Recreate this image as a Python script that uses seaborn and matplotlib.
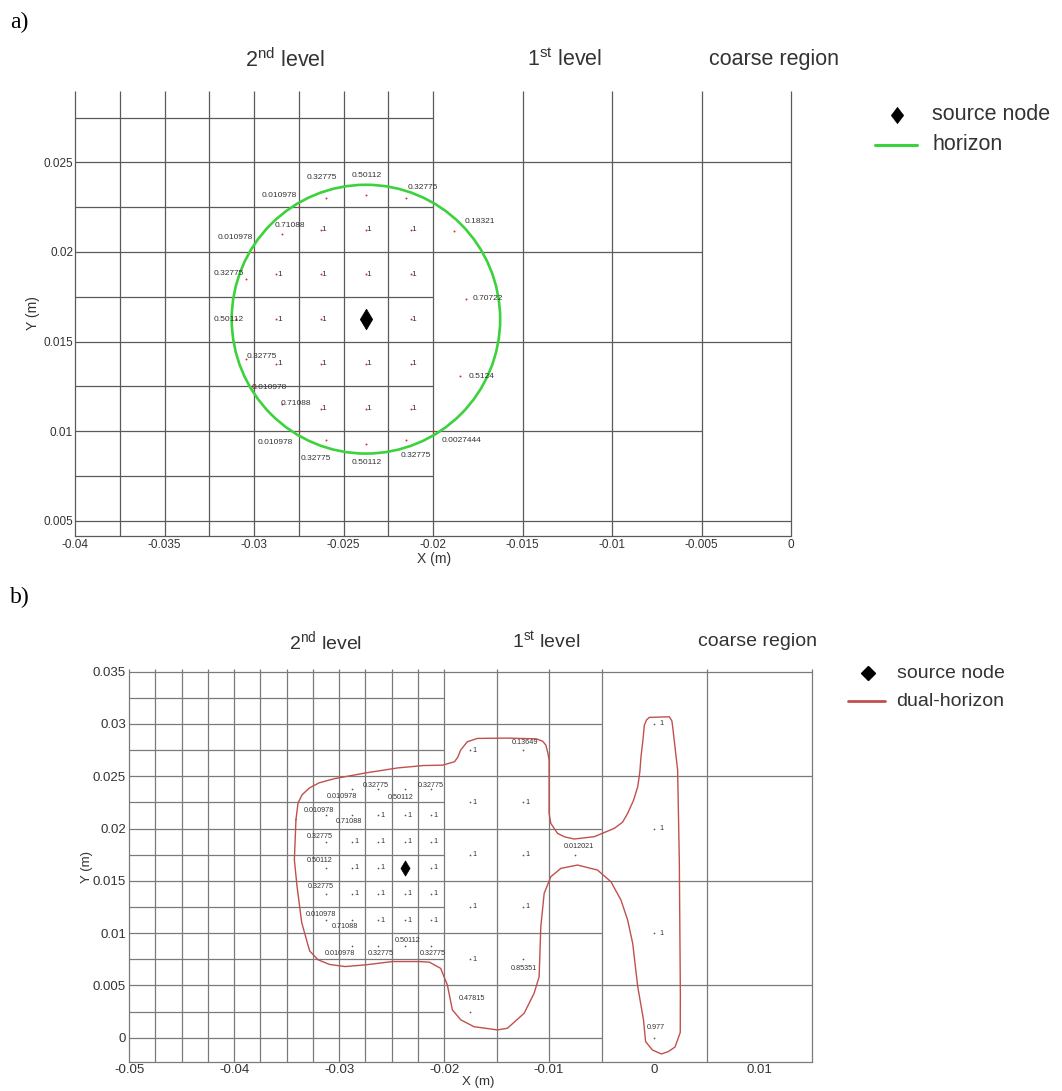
import numpy as np
import pandas as pd
import matplotlib
matplotlib.use("Agg")
import matplotlib.pyplot as plt
import seaborn as sns
from matplotlib.patches import Circle
from matplotlib.lines import Line2D

# ---------------- data : panel a (horizon of the source node) ----------------
source_x = -0.02375
source_y = 0.01625
horizon_radius = 0.0075

a_full_x = [-0.02625, -0.02375, -0.02125,
            -0.02875, -0.02625, -0.02375, -0.02125,
            -0.02875, -0.02625, -0.02125,
            -0.02875, -0.02625, -0.02375, -0.02125,
            -0.02625, -0.02375, -0.02125]
a_full_y = [0.02125, 0.02125, 0.02125,
            0.01875, 0.01875, 0.01875, 0.01875,
            0.01625, 0.01625, 0.01625,
            0.01375, 0.01375, 0.01375, 0.01375,
            0.01125, 0.01125, 0.01125]

a_part_x = [-0.0275, -0.02598, -0.02377, -0.02151, -0.01883, -0.02846, -0.0300,
            -0.03047, -0.01816, -0.0310, -0.03047, -0.0300, -0.02846, -0.01848,
            -0.0275, -0.02598, -0.02377, -0.02151, -0.0200]
a_part_y = [0.0225, 0.02301, 0.02320, 0.02301, 0.02116, 0.02098, 0.0200,
            0.01850, 0.01739, 0.01625, 0.01400, 0.0125, 0.01152, 0.01306,
            0.0100, 0.00949, 0.00930, 0.00949, 0.0100]
a_part_val = ["0.010978", "0.32775", "0.50112", "0.32775", "0.18321", "0.71088", "0.010978",
              "0.32775", "0.70722", "0.50112", "0.32775", "0.010978", "0.71088", "0.5124",
              "0.010978", "0.32775", "0.50112", "0.32775", "0.0027444"]

# mesh of panel a
a_vx = [-0.04, -0.0375, -0.035, -0.0325, -0.03, -0.0275, -0.025, -0.0225, -0.02,
        -0.015, -0.01, -0.005, 0.0]
a_hy = [0.0275, 0.025, 0.0225, 0.02, 0.0175, 0.015, 0.0125, 0.01, 0.0075, 0.005]
a_hx_end = [-0.02, 0.0, -0.02, -0.005, -0.02, 0.0, -0.02, -0.005, -0.02, 0.0]
a_xticks = [-0.04, -0.035, -0.03, -0.025, -0.02, -0.015, -0.01, -0.005, 0.0]
a_xticklabels = ["-0.04", "-0.035", "-0.03", "-0.025", "-0.02", "-0.015", "-0.01", "-0.005", "0"]
a_yticks = [0.005, 0.01, 0.015, 0.02, 0.025]
a_yticklabels = ["0.005", "0.01", "0.015", "0.02", "0.025"]

# ---------------- data : panel b (dual-horizon) ----------------
b_x = [-0.02875, -0.02625, -0.02375, -0.02125,
       -0.03125, -0.02875, -0.02625, -0.02375, -0.02125,
       -0.03125, -0.02875, -0.02625, -0.02375, -0.02125,
       -0.03125, -0.02875, -0.02625, -0.02125,
       -0.03125, -0.02875, -0.02625, -0.02375, -0.02125,
       -0.03125, -0.02875, -0.02625, -0.02375, -0.02125,
       -0.02875, -0.02625, -0.02375, -0.02125,
       -0.0175, -0.0125, -0.0175, -0.0125, -0.0175, -0.0125, -0.0075,
       -0.0175, -0.0125, -0.0175, -0.0125, -0.0175,
       0.0, 0.0, 0.0, 0.0]
b_y = [0.02375, 0.02375, 0.02375, 0.02375,
       0.02125, 0.02125, 0.02125, 0.02125, 0.02125,
       0.01875, 0.01875, 0.01875, 0.01875, 0.01875,
       0.01625, 0.01625, 0.01625, 0.01625,
       0.01375, 0.01375, 0.01375, 0.01375, 0.01375,
       0.01125, 0.01125, 0.01125, 0.01125, 0.01125,
       0.00875, 0.00875, 0.00875, 0.00875,
       0.0275, 0.0275, 0.0225, 0.0225, 0.0175, 0.0175, 0.0175,
       0.0125, 0.0125, 0.0075, 0.0075, 0.0025,
       0.03, 0.02, 0.01, 0.0]
b_val = ["0.010978", "0.32775", "0.50112", "0.32775",
         "0.010978", "0.71088", "1", "1", "1",
         "0.32775", "1", "1", "1", "1",
         "0.50112", "1", "1", "1",
         "0.32775", "1", "1", "1", "1",
         "0.010978", "0.71088", "1", "1", "1",
         "0.010978", "0.32775", "0.50112", "0.32775",
         "1", "0.13649", "1", "1", "1", "1", "0.012021",
         "1", "1", "1", "0.85351", "0.47815",
         "1", "1", "1", "0.977"]

# dual-horizon boundary
dh_x = [-0.0341, -0.0339, -0.0335, -0.0328, -0.0319, -0.0304, -0.0274, -0.0244, -0.0219,
        -0.02015, -0.0190, -0.0187, -0.01842, -0.01778, -0.01682, -0.0140, -0.0112, -0.0106,
        -0.0103, -0.0101, -0.00999, -0.00999, -0.00983, -0.00919, -0.0085, -0.0076, -0.00569,
        -0.00378, -0.00300, -0.00251, -0.00195, -0.00155, -0.00135, -0.00124, -0.00105,
        -0.00092, -0.0007, -0.00045, 0.00146, 0.0017,
        0.00178, 0.00225, 0.00241, 0.00251, 0.0025, 0.0020, 0.00135, 0.0007, -0.00015,
        -0.0008, -0.0010, -0.00155, -0.00203, -0.00251, -0.00315, -0.0041, -0.00538, -0.00729,
        -0.00887, -0.00983, -0.01046, -0.01078, -0.01094, -0.01142, -0.01237, -0.01396,
        -0.01491, -0.01715, -0.0184, -0.0192, -0.01968, -0.02032, -0.0214, -0.0224, -0.0249,
        -0.0274, -0.0294, -0.0309, -0.0320, -0.0328, -0.03355, -0.0340, -0.03425]
dh_y = [0.02086, 0.02245, 0.02325, 0.02389, 0.02437, 0.02478, 0.02533, 0.0258, 0.02603,
        0.02606, 0.02639, 0.0268, 0.0275, 0.0283, 0.02862, 0.02865, 0.02858, 0.02835,
        0.02798, 0.0272, 0.02655, 0.02145, 0.0205, 0.01954, 0.0192, 0.0190, 0.01922,
        0.02002, 0.02060, 0.02145, 0.02270, 0.0240, 0.02540, 0.02686, 0.02850,
        0.0299, 0.0304, 0.03063, 0.03069, 0.0303,
        0.02973, 0.02559, 0.01699, 0.00424, 0.0005, -0.0009, -0.00134, -0.00156, -0.00118,
        -0.00038, 0.0017, 0.00488, 0.00902, 0.01125, 0.01317, 0.01491, 0.01603, 0.01651,
        0.01619, 0.01539, 0.0138, 0.01061, 0.00583, 0.00424, 0.00233, 0.0009,
        0.00074, 0.00105, 0.0017, 0.00265, 0.00504, 0.00663, 0.00722, 0.00728, 0.00728,
        0.00697, 0.0068, 0.0070, 0.00745, 0.0083, 0.0110, 0.0145, 0.0170]

# mesh of panel b
b_vx = [-0.05, -0.0475, -0.045, -0.0425, -0.04, -0.0375, -0.035, -0.0325, -0.03, -0.0275,
        -0.025, -0.0225, -0.02, -0.015, -0.01, -0.005, 0.005, 0.015]
b_hy = [0.035, 0.0325, 0.03, 0.0275, 0.025, 0.0225, 0.02, 0.0175, 0.015, 0.0125, 0.01,
        0.0075, 0.005, 0.0025, 0.0]
b_hx_end = [0.015, -0.02, -0.005, -0.02, 0.015, -0.02, -0.005, -0.02, 0.015, -0.02, -0.005,
            -0.02, 0.015, -0.02, -0.005]
b_xticks = [-0.05, -0.04, -0.03, -0.02, -0.01, 0.0, 0.01]
b_xticklabels = ["-0.05", "-0.04", "-0.03", "-0.02", "-0.01", "0", "0.01"]
b_yticks = [0.0, 0.005, 0.01, 0.015, 0.02, 0.025, 0.03, 0.035]
b_yticklabels = ["0", "0.005", "0.01", "0.015", "0.02", "0.025", "0.03", "0.035"]

# ---------------- label placement (pixels, y downwards) ----------------
a_part_off = [(-20, -12), (-4, -21), (1, -19), (17, -11), (26, -10), (8, -9), (-19, -14),
              (-17, -5), (22, 0), (-7, 0), (16, -3), (15, 1), (14, 0), (21, 0),
              (-24, 11), (-10, 18), (1, 19), (10, 15), (28, 9)]
b_off = {0: (-10, 7), 1: (-3, -4), 2: (-4, 8), 3: (0, -4),
         4: (-7, -5), 5: (-3, 6), 9: (-6, -5), 14: (-6, -7), 18: (-5, -7),
         23: (-5, -6), 24: (-7, 6), 28: (-12, 7), 29: (2, 7), 30: (3, -6), 31: (2, 7),
         33: (2, -8), 38: (4, -8), 42: (1, 9), 43: (2, -13), 47: (2, -10)}

# ---------------- style ----------------
sns.set_theme(style="white")
plt.rcParams["font.family"] = ["Liberation Sans", "DejaVu Sans"]
plt.rcParams["mathtext.fontset"] = "custom"
plt.rcParams["mathtext.rm"] = "Liberation Sans"
plt.rcParams["mathtext.it"] = "Liberation Sans:italic"
plt.rcParams["mathtext.bf"] = "Liberation Sans:bold"

W, H = 1062, 1091
fig = plt.figure(figsize=(W / 100, H / 100), dpi=100)
fig.patch.set_facecolor("white")


def fx(p):
    return p / W


def fy(p):
    return 1 - p / H


PT = 0.72  # points per pixel
TXT = "#333333"
DIAMOND = [(0, 1), (0.76, 0), (0, -1), (-0.76, 0), (0, 1)]


def setup_axes(ax, xlim, ylim, xt, xtl, yt, ytl, fs, xpad, ypad, gridc):
    ax.set_xlim(*xlim)
    ax.set_ylim(*ylim)
    ax.set_xticks(xt)
    ax.set_xticklabels(xtl)
    ax.set_yticks(yt)
    ax.set_yticklabels(ytl)
    ax.tick_params(axis="x", length=0, pad=xpad, labelsize=fs, labelcolor=TXT)
    ax.tick_params(axis="y", length=0, pad=ypad, labelsize=fs, labelcolor=TXT)
    for s in ["top", "left", "right"]:
        ax.spines[s].set_visible(False)
    ax.spines["bottom"].set_color(gridc)
    ax.spines["bottom"].set_linewidth(0.9)
    ax.set_xlabel("")
    ax.set_ylabel("")
    ax.set_facecolor("white")


# ================= panel a =================
axA = fig.add_axes([fx(75.1), fy(536), fx(791) - fx(75.1), fy(90.7) - fy(536)])
a_xlim = (-0.04, 0.0)
a_ylim = (0.00415, 0.0290)
gridA = "#5a5a5a"
setup_axes(axA, a_xlim, a_ylim, a_xticks, a_xticklabels, a_yticks, a_yticklabels,
           8.5, 2, 1.5, gridA)
axA.vlines(a_vx, a_ylim[0], a_ylim[1], colors=gridA, lw=0.9, clip_on=False, zorder=1)
axA.hlines(a_hy, a_xlim[0], a_hx_end, colors=gridA, lw=0.9, clip_on=False, zorder=1)

axA.add_patch(Circle((source_x, source_y), horizon_radius, fill=False,
                     ec="#3cd23c", lw=1.9, zorder=3))

dfa_full = pd.DataFrame({"x": a_full_x, "y": a_full_y})
dfa_part = pd.DataFrame({"x": a_part_x, "y": a_part_y, "v": a_part_val})
sns.scatterplot(data=dfa_full, x="x", y="y", ax=axA, color="#d03030", s=2,
                linewidth=0, legend=False, zorder=4)
sns.scatterplot(data=dfa_part, x="x", y="y", ax=axA, color="#d03030", s=2,
                linewidth=0, legend=False, zorder=4)
for x, y in zip(a_full_x, a_full_y):
    axA.annotate("1", (x, y), xytext=(3 * PT, 0), textcoords="offset points",
                 ha="center", va="center", fontsize=6, color=TXT, zorder=5)
for (x, y, v), (dx, dy) in zip(zip(a_part_x, a_part_y, a_part_val), a_part_off):
    axA.annotate(v, (x, y), xytext=(dx * PT, -dy * PT), textcoords="offset points",
                 ha="center", va="center", fontsize=6, color=TXT, zorder=5)
sns.scatterplot(x=[source_x], y=[source_y], ax=axA, marker="d", s=110, color="black",
                edgecolor="black", linewidth=0.5, legend=False, zorder=6)
axA.set_xlabel("")
axA.set_ylabel("")

fig.text(fx(434), fy(559), "X (m)", ha="center", va="center", fontsize=10, color=TXT)
fig.text(fx(33), fy(313), "Y (m)", ha="center", va="center", fontsize=10, color=TXT,
         rotation=90)

# headers / legend a
fig.text(fx(10), fy(22), "a)", ha="left", va="center", fontsize=17,
         family="Liberation Serif", color="black")
fig.text(fx(285), fy(60), "2$^{\\mathrm{nd}}$ level", ha="center", va="center",
         fontsize=15.5, color=TXT)
fig.text(fx(565), fy(60), "1$^{\\mathrm{st}}$ level", ha="center", va="center",
         fontsize=15.5, color=TXT)
fig.text(fx(774), fy(60), "coarse region", ha="center", va="center", fontsize=15.5,
         color=TXT)
fig.add_artist(Line2D([fx(897)], [fy(115)], marker=DIAMOND, ms=12, color="black",
                      markeredgewidth=0.3, transform=fig.transFigure))
fig.text(fx(932), fy(114), "source node", ha="left", va="center", fontsize=15.5,
         color=TXT)
fig.add_artist(Line2D([fx(875), fx(917)], [fy(144.5), fy(144.5)], color="#3cd23c", lw=2.2,
                      transform=fig.transFigure))
fig.text(fx(932), fy(144), "horizon", ha="left", va="center", fontsize=15.5, color=TXT)

# ================= panel b =================
axB = fig.add_axes([fx(129), fy(1061.7), fx(811.5) - fx(129), fy(669) - fy(1061.7)])
b_xlim = (-0.05, 0.015)
b_ylim = (-0.0023, 0.03526)
gridB = "#7a7a7a"
setup_axes(axB, b_xlim, b_ylim, b_xticks, b_xticklabels, b_yticks, b_yticklabels,
           9.5, 1.5, 2.2, gridB)
axB.vlines(b_vx, b_ylim[0], b_ylim[1], colors=gridB, lw=0.9, clip_on=False, zorder=1)
axB.hlines(b_hy, b_xlim[0], b_hx_end, colors=gridB, lw=0.9, clip_on=False, zorder=1)

cx = list(dh_x) + [dh_x[0]]
cy = list(dh_y) + [dh_y[0]]
sns.lineplot(x=cx, y=cy, sort=False, estimator=None, ax=axB, color="#c0504d", lw=1.0,
             zorder=3)

dfb = pd.DataFrame({"x": b_x, "y": b_y, "v": b_val})
sns.scatterplot(data=dfb, x="x", y="y", ax=axB, color="#555555", s=1.5, linewidth=0,
                legend=False, zorder=4)
for i, (x, y, v) in enumerate(zip(b_x, b_y, b_val)):
    if v == "1":
        off = (7, 0) if x > -0.005 else (4.5, 0)
    else:
        off = b_off.get(i, (0, -7))
    axB.annotate(v, (x, y), xytext=(off[0] * PT, -off[1] * PT), textcoords="offset points",
                 ha="center", va="center", fontsize=5.2, color=TXT, zorder=5)
sns.scatterplot(x=[source_x], y=[source_y], ax=axB, marker="d", s=60, color="black",
                edgecolor="black", linewidth=0.5, legend=False, zorder=6)
axB.set_xlabel("")
axB.set_ylabel("")

fig.text(fx(478), fy(1082), "X (m)", ha="center", va="center", fontsize=9.5, color=TXT)
fig.text(fx(87), fy(867), "Y (m)", ha="center", va="center", fontsize=9.5, color=TXT,
         rotation=90)

fig.text(fx(10), fy(597), "b)", ha="left", va="center", fontsize=17,
         family="Liberation Serif", color="black")
fig.text(fx(326), fy(641), "2$^{\\mathrm{nd}}$ level", ha="center", va="center",
         fontsize=14, color=TXT)
fig.text(fx(546), fy(641), "1$^{\\mathrm{st}}$ level", ha="center", va="center",
         fontsize=14, color=TXT)
fig.text(fx(757), fy(641), "coarse region", ha="center", va="center", fontsize=14,
         color=TXT)
fig.add_artist(Line2D([fx(868)], [fy(673)], marker="D", ms=7.5, color="black",
                      transform=fig.transFigure))
fig.text(fx(897), fy(673), "source node", ha="left", va="center", fontsize=14, color=TXT)
fig.add_artist(Line2D([fx(848), fx(885)], [fy(701), fy(701)], color="#c0504d", lw=2.0,
                      transform=fig.transFigure))
fig.text(fx(896), fy(701), "dual-horizon", ha="left", va="center", fontsize=14, color=TXT)

fig.savefig("out.png", dpi=100, facecolor="white")
